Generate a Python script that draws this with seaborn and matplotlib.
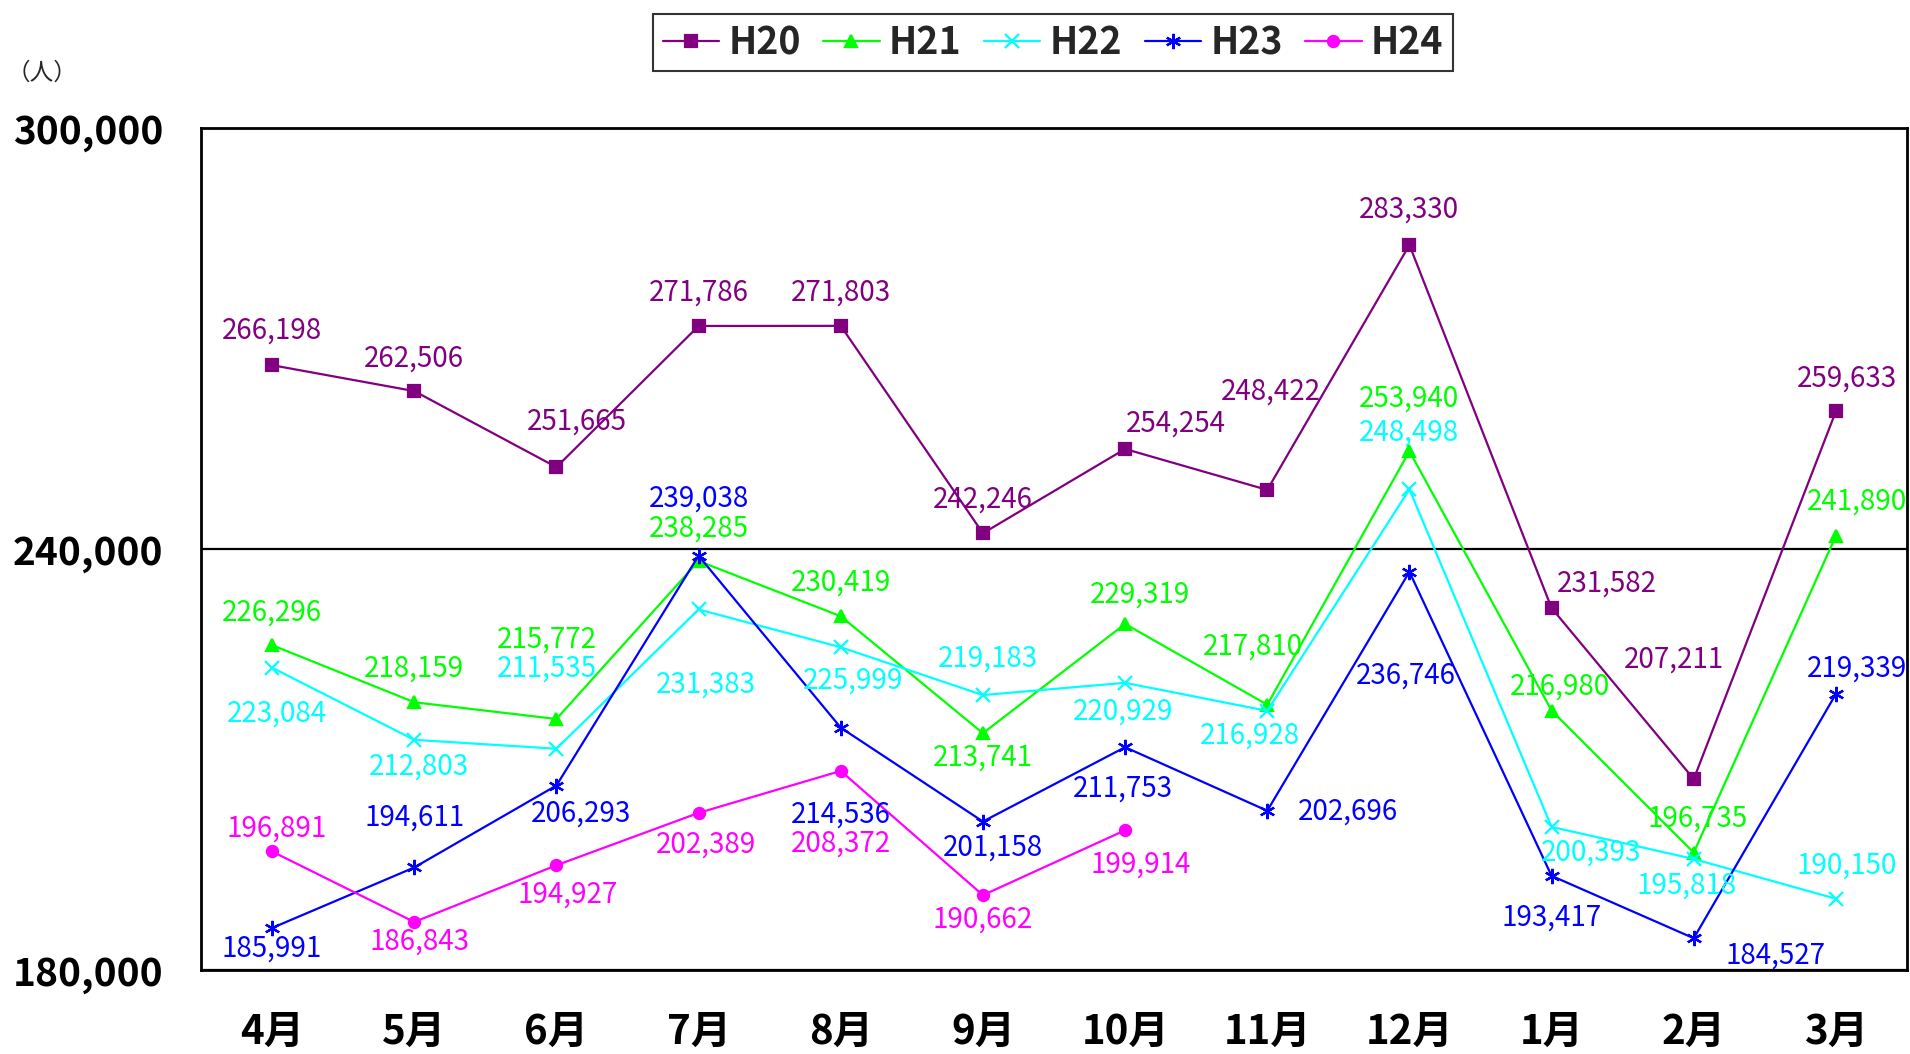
import numpy as np
import pandas as pd
import matplotlib
matplotlib.use("Agg")
import matplotlib.pyplot as plt
import seaborn as sns

months = ["4月", "5月", "6月", "7月", "8月", "9月", "10月", "11月", "12月", "1月", "2月", "3月"]
h20 = [266198, 262506, 251665, 271786, 271803, 242246, 254254, 248422, 283330, 231582, 207211, 259633]
h21 = [226296, 218159, 215772, 238285, 230419, 213741, 229319, 217810, 253940, 216980, 196735, 241890]
h22 = [223084, 212803, 211535, 231383, 225999, 219183, 220929, 216928, 248498, 200393, 195818, 190150]
h23 = [185991, 194611, 206293, 239038, 214536, 201158, 211753, 202696, 236746, 193417, 184527, 219339]
h24 = [196891, 186843, 194927, 202389, 208372, 190662, 199914, np.nan, np.nan, np.nan, np.nan, np.nan]
series_names = ["H20", "H21", "H22", "H23", "H24"]
y_ticks = [180000, 240000, 300000]

# label offsets (dx, dy) in reference display px, dy positive = downward
S = 1910 / 1568
offsets = {
    "H20": [(0, -28), (0, -27), (17, -37), (0, -27), (0, -27), (0, -28), (42, -21), (3, -81), (0, -29), (45, -20), (-16, -98), (9, -27)],
    "H21": [(0, -27), (0, -28), (-8, -65), (0, -27), (0, -28), (0, 20), (12, -24), (-12, -48), (0, -43), (7, -20), (3, -28), (17, -28)],
    "H22": [(4, 38), (4, 22), (-8, -66), (6, 62), (10, 27), (4, -30), (-2, 24), (-14, 20), (0, -47), (32, 21), (-6, 22), (9, -27)],
    "H23": [(0, 17), (0, -41), (20, 23), (0, -47), (0, 71), (8, 21), (-2, 34), (66, 1), (-3, 85), (0, 34), (67, 14), (17, -21)],
    "H24": [(4, -19), (4, 16), (9, 24), (6, 26), (0, 60), (0, 20), (13, 28)],
}

colors = {"H20": "#800080", "H21": "#00FF00", "H22": "#00FFFF", "H23": "#0000FF", "H24": "#FF00FF"}
markers = {"H20": "s", "H21": "^", "H22": "x", "H23": (6, 2, 0), "H24": "o"}
msizes = {"H20": 8, "H21": 9, "H22": 10, "H23": 11, "H24": 8}

sns.set_theme(style="white")
plt.rcParams["font.family"] = ["Noto Sans CJK JP", "DejaVu Sans"]

fig = plt.figure(figsize=(19.1, 10.54), dpi=100)
ax = fig.add_axes([201 / 1910, 1 - 970 / 1054, (1907 - 201) / 1910, (970 - 128) / 1054])

data = {"H20": h20, "H21": h21, "H22": h22, "H23": h23, "H24": h24}
x = np.arange(len(months))
for name in series_names:
    vals = np.array(data[name], dtype=float)
    mask = ~np.isnan(vals)
    df = pd.DataFrame({"x": x[mask], "y": vals[mask]})
    sns.lineplot(data=df, x="x", y="y", ax=ax, color=colors[name], marker=markers[name],
                 markersize=msizes[name], mec=colors[name], mfc=colors[name], mew=1.6,
                 linewidth=1.6, sort=False, label=name)
    for i, v in enumerate(vals):
        if np.isnan(v):
            continue
        dx, dy = offsets[name][i]
        ax.annotate(f"{int(v):,}", (i, v), xytext=(dx * S, -dy * S), textcoords="offset pixels",
                    ha="center", va="center", fontsize=20, color=colors[name])

ax.set_xlim(-0.5, 11.5)
ax.set_ylim(180000, 300000)
ax.set_yticks(y_ticks)
ax.set_yticklabels([f"{t:,}" for t in y_ticks], fontsize=28, fontweight="bold")
ax.set_xticks(x)
ax.set_xticklabels(months, fontsize=29, fontweight="bold")
ax.set_xticks(np.arange(0.5, 11.5, 1), minor=True)
ax.tick_params(axis="x", which="major", length=0, pad=30, colors="black")
ax.tick_params(axis="x", which="minor", length=12, width=1.5, direction="in", color="black")
ax.tick_params(axis="y", which="major", length=7, width=2, direction="in", pad=27, colors="black")
ax.set_xlabel("")
ax.set_ylabel("")
ax.grid(axis="y", color="black", linewidth=1.6)
ax.grid(axis="x", visible=False)
for sp in ax.spines.values():
    sp.set_visible(True)
    sp.set_color("black")
    sp.set_linewidth(2)

leg = ax.legend(loc="center", bbox_to_anchor=(1053 / 1910, 1 - 42.6 / 1054), bbox_transform=fig.transFigure,
                ncol=5, frameon=True, fancybox=False, edgecolor="black",
                prop={"weight": "bold", "size": 27}, handlelength=1.5, columnspacing=0.6,
                handletextpad=0.25, borderpad=0.25, borderaxespad=0)
leg.get_frame().set_linewidth(1.5)

fig.text(42 / 1910, 1 - 73 / 1054, "（人）", ha="center", va="center", fontsize=17)

fig.savefig("out.png", dpi=100)
